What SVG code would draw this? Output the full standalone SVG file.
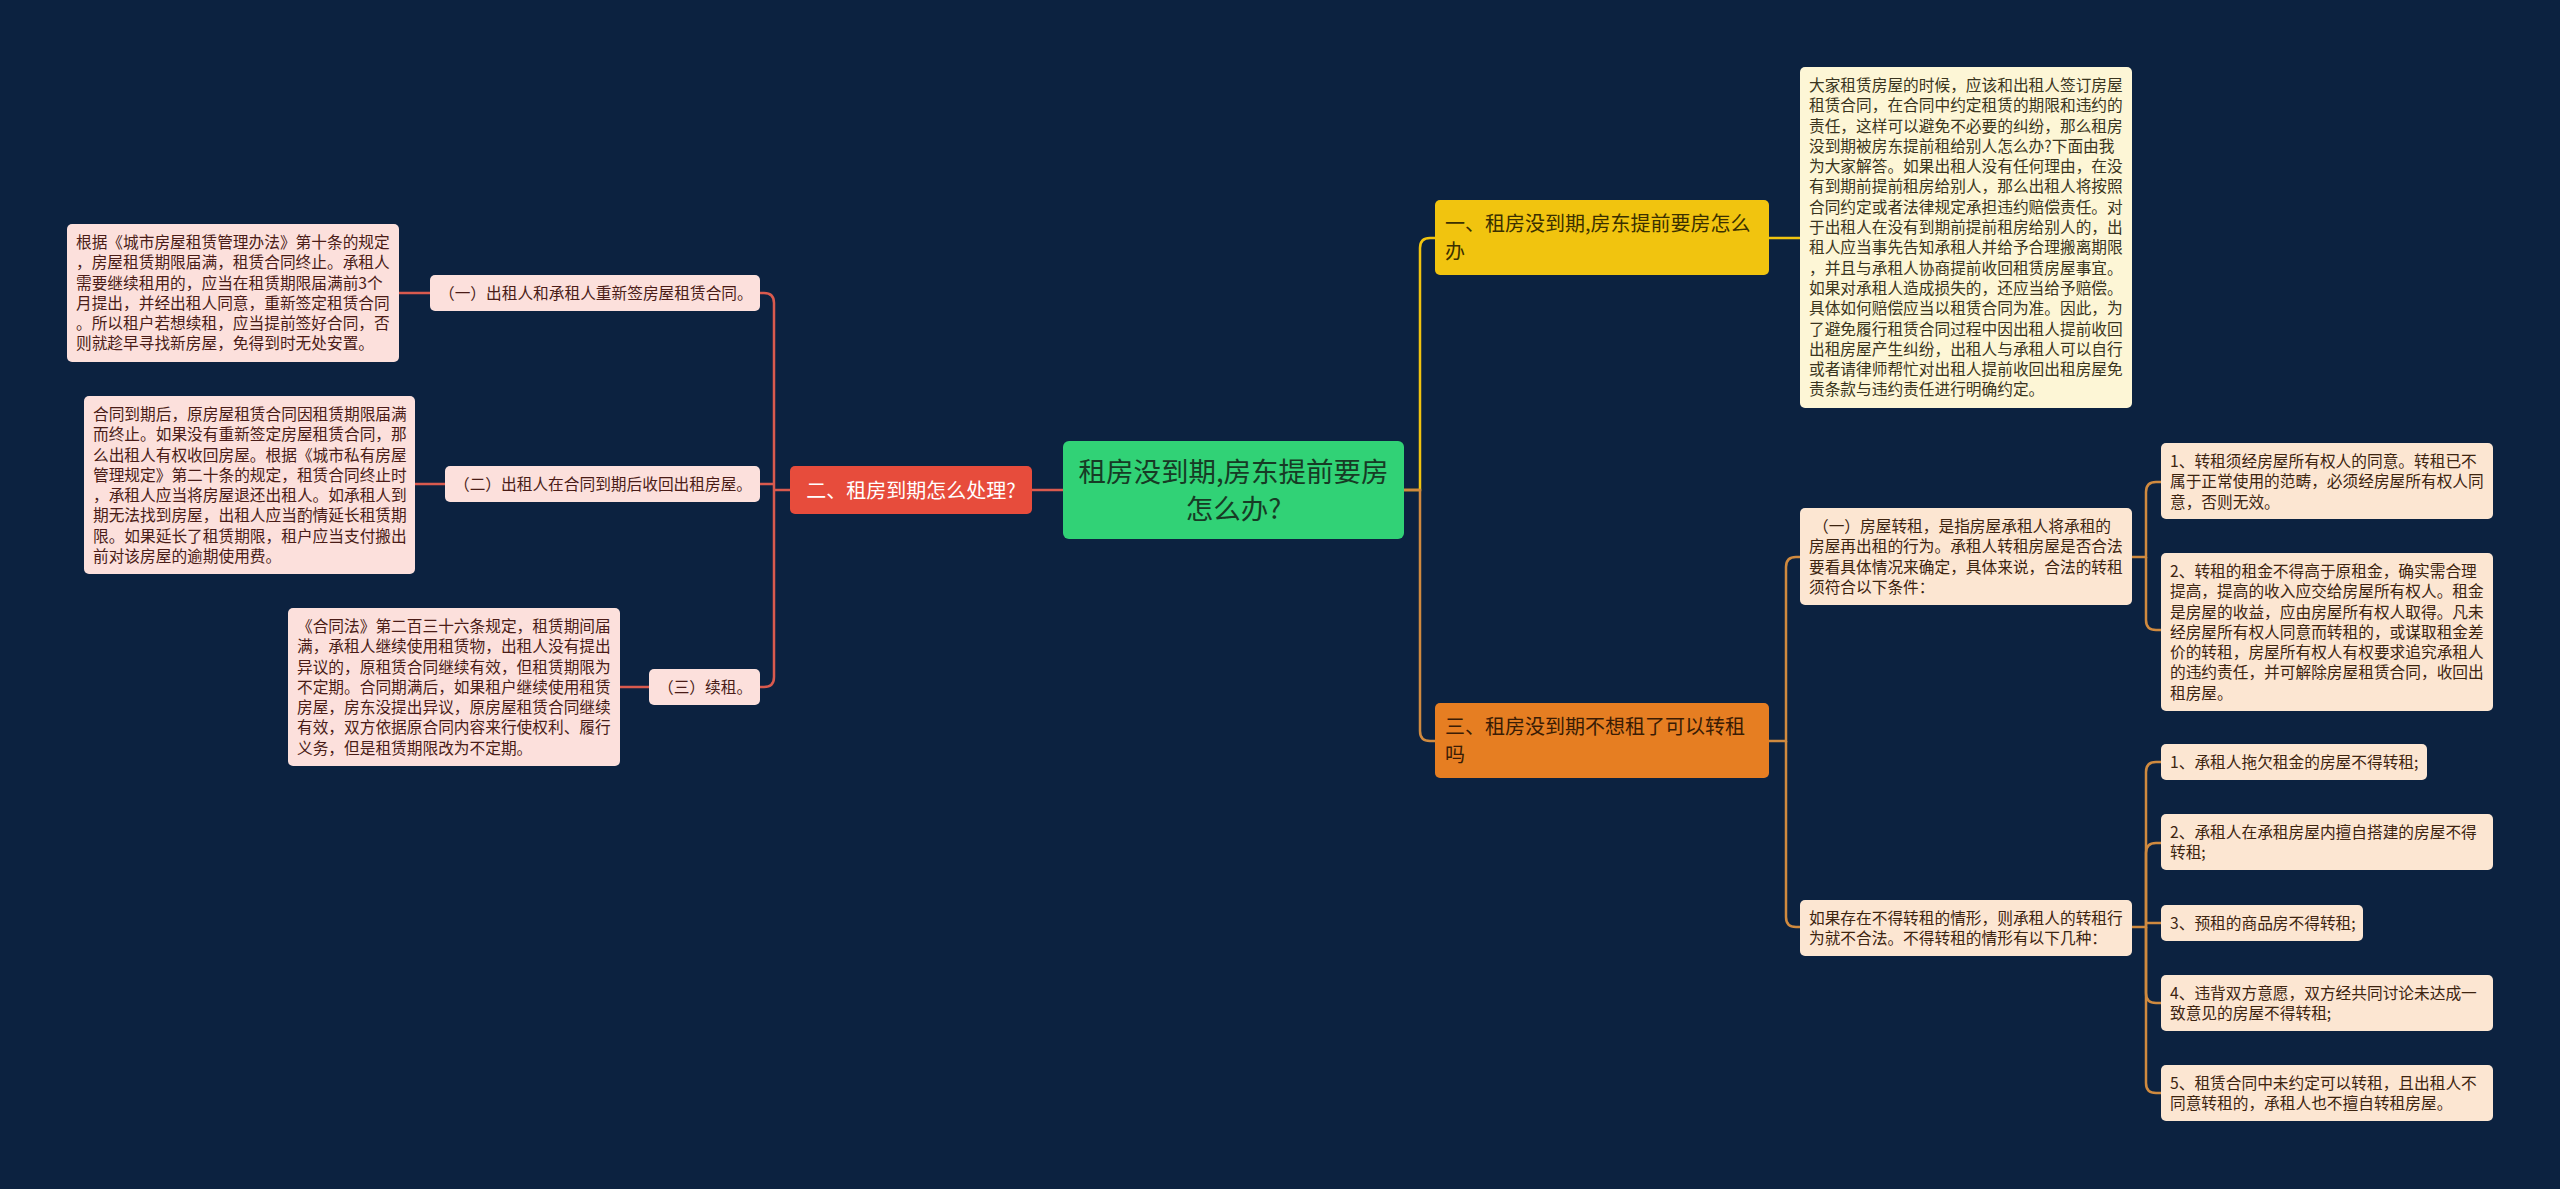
<svg xmlns="http://www.w3.org/2000/svg" width="2560" height="1189" viewBox="0 0 2560 1189">
<style>
text{font-family:"Noto Sans CJK SC","Noto Sans",sans-serif}
.bg{fill:#0c2240}
.leafL{fill:#fce0dc}
.leafR{fill:#fce6d2}
.leafY{fill:#fdf6d6}
.tL{font-size:15.7px;fill:#4a1c17}
.tR{font-size:15.7px;fill:#3d2410}
.tY{font-size:15.7px;fill:#3a3520}
.cr{fill:none;stroke:#d95a4e;stroke-width:2.5}
.cy{fill:none;stroke:#f1c40f;stroke-width:2.5}
.co{fill:none;stroke:#d08a3f;stroke-width:2.5}
</style>
<rect class="bg" x="0" y="0" width="2560" height="1189"/>
<g id="connectors">
<path class="cr" d="M1063 490 H1032"/>
<path class="cr" d="M790 490 H774"/>
<path class="cr" d="M774 490 V303 Q774 293 764 293 H760"/>
<path class="cr" d="M774 490 V677 Q774 687 764 687 H760"/>
<path class="cr" d="M774 484 H760"/>
<path class="cr" d="M430 293 H399"/>
<path class="cr" d="M445 484 H415"/>
<path class="cr" d="M649 687 H620"/>
<path class="cy" d="M1404 490 H1420 V248 Q1420 238 1430 238 H1435"/>
<path class="co" d="M1404 490 H1420 V731 Q1420 741 1430 741 H1435"/>
<path class="cy" d="M1769 238 H1800"/>
<path class="co" d="M1769 741 H1786 V567 Q1786 557 1796 557 H1800"/>
<path class="co" d="M1786 741 V917 Q1786 927 1796 927 H1800"/>
<path class="co" d="M2132 557 H2146 V492 Q2146 482 2156 482 H2161"/>
<path class="co" d="M2146 557 V620 Q2146 630 2156 630 H2161"/>
<path class="co" d="M2132 927 H2146 V772 Q2146 762 2156 762 H2161"/>
<path class="co" d="M2146 927 V853 Q2146 843 2156 843 H2161"/>
<path class="co" d="M2146 923 H2161"/>
<path class="co" d="M2146 927 V993 Q2146 1003 2156 1003 H2161"/>
<path class="co" d="M2146 927 V1083 Q2146 1093 2156 1093 H2161"/>
</g>
<g id="center">
<rect x="1063" y="441" width="341" height="98" rx="6" fill="#31d276"/>
<text font-size="27.5" fill="#173b25" text-anchor="middle"><tspan x="1233.5" y="482.4">租房没到期,房东提前要房</tspan><tspan x="1233.5" y="519.4">怎么办?</tspan></text>
</g>
<g id="n2">
<rect x="790" y="466" width="242" height="48" rx="5" fill="#e74c3c"/>
<text font-size="20" fill="#ffffff" text-anchor="middle" x="911" y="497.6">二、租房到期怎么处理?</text>
</g>
<g id="n2c1">
<rect class="leafL" x="430" y="275" width="330" height="36" rx="5"/>
<text class="tL" x="439" y="298.9">（一）出租人和承租人重新签房屋租赁合同。</text>
</g>
<g id="n2c2">
<rect class="leafL" x="445" y="466" width="315" height="36" rx="5"/>
<text class="tL" x="454" y="489.9">（二）出租人在合同到期后收回出租房屋。</text>
</g>
<g id="n2c3">
<rect class="leafL" x="649" y="669" width="111" height="36" rx="5"/>
<text class="tL" x="658" y="692.9">（三）续租。</text>
</g>
<g id="n2c1d">
<rect class="leafL" x="67" y="224" width="332" height="138" rx="5"/>
<text class="tL"><tspan x="76" y="247.9">根据《城市房屋租赁管理办法》第十条的规定</tspan><tspan x="76" y="268.2">，房屋租赁期限届满，租赁合同终止。承租人</tspan><tspan x="76" y="288.5">需要继续租用的，应当在租赁期限届满前3个</tspan><tspan x="76" y="308.8">月提出，并经出租人同意，重新签定租赁合同</tspan><tspan x="76" y="329.1">。所以租户若想续租，应当提前签好合同，否</tspan><tspan x="76" y="349.4">则就趁早寻找新房屋，免得到时无处安置。</tspan></text>
</g>
<g id="n2c2d">
<rect class="leafL" x="84" y="396" width="331" height="178" rx="5"/>
<text class="tL"><tspan x="93" y="419.9">合同到期后，原房屋租赁合同因租赁期限届满</tspan><tspan x="93" y="440.2">而终止。如果没有重新签定房屋租赁合同，那</tspan><tspan x="93" y="460.5">么出租人有权收回房屋。根据《城市私有房屋</tspan><tspan x="93" y="480.8">管理规定》第二十条的规定，租赁合同终止时</tspan><tspan x="93" y="501.1">，承租人应当将房屋退还出租人。如承租人到</tspan><tspan x="93" y="521.4">期无法找到房屋，出租人应当酌情延长租赁期</tspan><tspan x="93" y="541.7">限。如果延长了租赁期限，租户应当支付搬出</tspan><tspan x="93" y="562">前对该房屋的逾期使用费。</tspan></text>
</g>
<g id="n2c3d">
<rect class="leafL" x="288" y="608" width="332" height="158" rx="5"/>
<text class="tL"><tspan x="297" y="631.9">《合同法》第二百三十六条规定，租赁期间届</tspan><tspan x="297" y="652.2">满，承租人继续使用租赁物，出租人没有提出</tspan><tspan x="297" y="672.5">异议的，原租赁合同继续有效，但租赁期限为</tspan><tspan x="297" y="692.8">不定期。合同期满后，如果租户继续使用租赁</tspan><tspan x="297" y="713.1">房屋，房东没提出异议，原房屋租赁合同继续</tspan><tspan x="297" y="733.4">有效，双方依据原合同内容来行使权利、履行</tspan><tspan x="297" y="753.7">义务，但是租赁期限改为不定期。</tspan></text>
</g>
<g id="n1">
<rect x="1435" y="200" width="334" height="75" rx="5" fill="#f1c40f"/>
<text font-size="20" fill="#3b3000"><tspan x="1445" y="231">一、租房没到期,房东提前要房怎么</tspan><tspan x="1445" y="259">办</tspan></text>
</g>
<g id="n1d">
<rect class="leafY" x="1800" y="67" width="332" height="341" rx="5"/>
<text class="tY"><tspan x="1809" y="90.9">大家租赁房屋的时候，应该和出租人签订房屋</tspan><tspan x="1809" y="111.2">租赁合同，在合同中约定租赁的期限和违约的</tspan><tspan x="1809" y="131.5">责任，这样可以避免不必要的纠纷，那么租房</tspan><tspan x="1809" y="151.8">没到期被房东提前租给别人怎么办?下面由我</tspan><tspan x="1809" y="172.1">为大家解答。如果出租人没有任何理由，在没</tspan><tspan x="1809" y="192.4">有到期前提前租房给别人，那么出租人将按照</tspan><tspan x="1809" y="212.7">合同约定或者法律规定承担违约赔偿责任。对</tspan><tspan x="1809" y="233">于出租人在没有到期前提前租房给别人的，出</tspan><tspan x="1809" y="253.3">租人应当事先告知承租人并给予合理搬离期限</tspan><tspan x="1809" y="273.6">，并且与承租人协商提前收回租赁房屋事宜。</tspan><tspan x="1809" y="293.9">如果对承租人造成损失的，还应当给予赔偿。</tspan><tspan x="1809" y="314.2">具体如何赔偿应当以租赁合同为准。因此，为</tspan><tspan x="1809" y="334.5">了避免履行租赁合同过程中因出租人提前收回</tspan><tspan x="1809" y="354.8">出租房屋产生纠纷，出租人与承租人可以自行</tspan><tspan x="1809" y="375.1">或者请律师帮忙对出租人提前收回出租房屋免</tspan><tspan x="1809" y="395.4">责条款与违约责任进行明确约定。</tspan></text>
</g>
<g id="n3">
<rect x="1435" y="703" width="334" height="75" rx="5" fill="#e67e22"/>
<text font-size="20" fill="#3a1c05"><tspan x="1445" y="734">三、租房没到期不想租了可以转租</tspan><tspan x="1445" y="762">吗</tspan></text>
</g>
<g id="n3c1">
<rect class="leafR" x="1800" y="508" width="332" height="97" rx="5"/>
<text class="tR"><tspan x="1813" y="531.9">（一）房屋转租，是指房屋承租人将承租的</tspan><tspan x="1809" y="552.2">房屋再出租的行为。承租人转租房屋是否合法</tspan><tspan x="1809" y="572.5">要看具体情况来确定，具体来说，合法的转租</tspan><tspan x="1809" y="592.8">须符合以下条件：</tspan></text>
</g>
<g id="n3c1a">
<rect class="leafR" x="2161" y="443" width="332" height="76" rx="5"/>
<text class="tR"><tspan x="2170" y="466.9">1、转租须经房屋所有权人的同意。转租已不</tspan><tspan x="2170" y="487.2">属于正常使用的范畴，必须经房屋所有权人同</tspan><tspan x="2170" y="507.5">意，否则无效。</tspan></text>
</g>
<g id="n3c1b">
<rect class="leafR" x="2161" y="553" width="332" height="158" rx="5"/>
<text class="tR"><tspan x="2170" y="576.9">2、转租的租金不得高于原租金，确实需合理</tspan><tspan x="2170" y="597.2">提高，提高的收入应交给房屋所有权人。租金</tspan><tspan x="2170" y="617.5">是房屋的收益，应由房屋所有权人取得。凡未</tspan><tspan x="2170" y="637.8">经房屋所有权人同意而转租的，或谋取租金差</tspan><tspan x="2170" y="658.1">价的转租，房屋所有权人有权要求追究承租人</tspan><tspan x="2170" y="678.4">的违约责任，并可解除房屋租赁合同，收回出</tspan><tspan x="2170" y="698.7">租房屋。</tspan></text>
</g>
<g id="n3c2">
<rect class="leafR" x="1800" y="900" width="332" height="56" rx="5"/>
<text class="tR"><tspan x="1809" y="923.9">如果存在不得转租的情形，则承租人的转租行</tspan><tspan x="1809" y="944.2">为就不合法。不得转租的情形有以下几种：</tspan></text>
</g>
<g id="n3c2a">
<rect class="leafR" x="2161" y="744" width="266" height="36" rx="5"/>
<text class="tR" x="2170" y="767.9">1、承租人拖欠租金的房屋不得转租;</text>
</g>
<g id="n3c2b">
<rect class="leafR" x="2161" y="814" width="332" height="56" rx="5"/>
<text class="tR"><tspan x="2170" y="837.9">2、承租人在承租房屋内擅自搭建的房屋不得</tspan><tspan x="2170" y="858.2">转租;</tspan></text>
</g>
<g id="n3c2c">
<rect class="leafR" x="2161" y="905" width="202" height="36" rx="5"/>
<text class="tR" x="2170" y="928.9">3、预租的商品房不得转租;</text>
</g>
<g id="n3c2d">
<rect class="leafR" x="2161" y="975" width="332" height="56" rx="5"/>
<text class="tR"><tspan x="2170" y="998.9">4、违背双方意愿，双方经共同讨论未达成一</tspan><tspan x="2170" y="1019.2">致意见的房屋不得转租;</tspan></text>
</g>
<g id="n3c2e">
<rect class="leafR" x="2161" y="1065" width="332" height="56" rx="5"/>
<text class="tR"><tspan x="2170" y="1088.9">5、租赁合同中未约定可以转租，且出租人不</tspan><tspan x="2170" y="1109.2">同意转租的，承租人也不擅自转租房屋。</tspan></text>
</g>
</svg>
